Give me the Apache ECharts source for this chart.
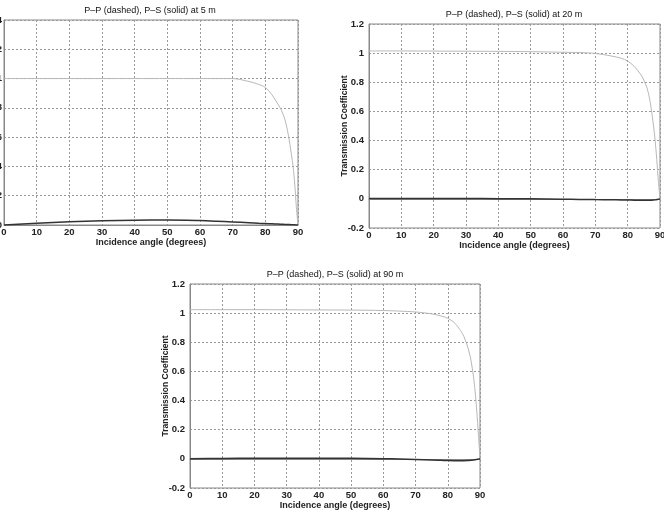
<!DOCTYPE html>
<html lang="en">
<head>
    <meta charset="UTF-8">
    <title>Transmission coefficients</title>
    <script src="https://cdn.jsdelivr.net/npm/echarts@6/dist/echarts.min.js"></script>
    <style>
        body { margin: 0; background: #fff; }
    </style>
</head>
<body>
<div id='box' style="width: 664px;height:514px;"></div>
<script>
    // incidence angles (degrees), shared by all curves
    var angles = [0, 10, 20, 30, 40, 50, 60, 65, 70, 75, 78, 80, 82, 84, 85, 86, 87, 88, 88.5, 89, 89.5, 90];

    // P-P transmission (dashed, light grey)
    var pp5  = [1.0, 1.0, 1.0, 1.0, 1.0, 1.0, 1.0, 1.0, 1.0, 0.98, 0.96, 0.94, 0.89, 0.82, 0.78, 0.72, 0.62, 0.48, 0.40, 0.28, 0.12, 0];
    var pp20 = [1.015, 1.015, 1.014, 1.013, 1.012, 1.01, 1.006, 1.004, 0.998, 0.98, 0.965, 0.945, 0.91, 0.855, 0.815, 0.76, 0.66, 0.50, 0.40, 0.27, 0.12, 0];
    var pp90 = [1.024, 1.024, 1.024, 1.023, 1.022, 1.021, 1.018, 1.014, 1.008, 0.995, 0.98, 0.965, 0.935, 0.88, 0.84, 0.78, 0.70, 0.56, 0.46, 0.33, 0.17, 0];

    // P-S transmission (solid, dark)
    var ps5  = [0, 0.012, 0.022, 0.029, 0.033, 0.034, 0.03, 0.026, 0.021, 0.016, 0.012, 0.01, 0.008, 0.006, 0.005, 0.004, 0.003, 0.002, 0.002, 0.001, 0.0005, 0];
    var ps20 = [0.002, 0.002, 0.002, 0.002, 0.001, 0, -0.003, -0.004, -0.005, -0.006, -0.007, -0.008, -0.009, -0.01, -0.01, -0.01, -0.009, -0.008, -0.007, -0.005, -0.003, 0];
    var ps90 = [0, 0.003, 0.005, 0.005, 0.005, 0.004, 0.001, -0.001, -0.004, -0.007, -0.01, -0.012, -0.013, -0.013, -0.013, -0.012, -0.01, -0.008, -0.006, -0.004, -0.002, 0];

    var titles = ['P\u2013P (dashed), P\u2013S (solid) at 5 m',
                  'P\u2013P (dashed), P\u2013S (solid) at 20 m',
                  'P\u2013P (dashed), P\u2013S (solid) at 90 m'];

    var font = 'Liberation Sans, Arial, sans-serif';

    function pairs(ys) {
        return angles.map(function (a, i) { return [a, ys[i]]; });
    }

    function xAxisFor(idx) {
        return {
            gridIndex: idx, type: 'value', min: 0, max: 90, interval: 10,
            name: 'Incidence angle (degrees)', nameLocation: 'middle', nameGap: 13,
            nameMoveOverlap: false,
            nameTextStyle: { fontFamily: font, fontSize: 9, fontWeight: 'bold', color: '#222' },
            axisLine: { show: true, lineStyle: { color: '#888' } },
            axisTick: { show: false },
            axisLabel: { fontFamily: font, fontSize: 9.5, fontWeight: 'bold', color: '#222', margin: 2 },
            splitLine: { show: true, lineStyle: { color: '#999', type: [2, 2] } }
        };
    }

    function yAxisFor(idx, min, max, margin, withName) {
        var ax = {
            gridIndex: idx, type: 'value', min: min, max: max, interval: 0.2,
            axisLine: { show: true, lineStyle: { color: '#888' } },
            axisTick: { show: false },
            axisLabel: { fontFamily: font, fontSize: 9.5, fontWeight: 'bold', color: '#222', margin: margin },
            splitLine: { show: true, lineStyle: { color: '#999', type: [2, 2] } }
        };
        if (withName) {
            ax.name = 'Transmission Coefficient';
            ax.nameLocation = 'middle';
            ax.nameGap = 20;
            ax.nameMoveOverlap = false;
            ax.nameTextStyle = { fontFamily: font, fontSize: 8.5, fontWeight: 'bold', color: '#222' };
        }
        return ax;
    }

    function lineSeries(idx, ys, dark) {
        return {
            type: 'line', xAxisIndex: idx, yAxisIndex: idx, data: pairs(ys),
            showSymbol: false, smooth: 0.3, silent: true,
            lineStyle: dark ? { color: '#333', width: 1.5 } : { color: '#b8b8b8', width: 1 }
        };
    }

    var myChart = echarts.init(document.getElementById('box'));
    var option = {
        backgroundColor: '#fff',
        animation: false,
        title: [
            { text: titles[0], left: 150, top: 6, textAlign: 'center' },
            { text: titles[1], left: 514, top: 10, textAlign: 'center' },
            { text: titles[2], left: 335, top: 270, textAlign: 'center' }
        ].map(function (t) {
            t.padding = 0;
            t.textStyle = { fontFamily: font, fontSize: 9, fontWeight: 'normal', color: '#111' };
            return t;
        }),
        grid: [
            { left: 4, top: 20, width: 294, height: 205 },
            { left: 369, top: 24, width: 291, height: 204 },
            { left: 190, top: 284, width: 290, height: 204 }
        ].map(function (g) {
            g.outerBoundsMode = 'none';
            g.containLabel = false;
            g.show = true;
            g.borderColor = '#888';
            g.borderWidth = 1;
            return g;
        }),
        xAxis: [xAxisFor(0), xAxisFor(1), xAxisFor(2)],
        yAxis: [
            yAxisFor(0, 0, 1.4, 2, false),
            yAxisFor(1, -0.2, 1.2, 5, true),
            yAxisFor(2, -0.2, 1.2, 5, true)
        ],
        series: [
            lineSeries(0, pp5, false), lineSeries(0, ps5, true),
            lineSeries(1, pp20, false), lineSeries(1, ps20, true),
            lineSeries(2, pp90, false), lineSeries(2, ps90, true)
        ]
    };
    myChart.setOption(option);
</script>
</body>
</html>
